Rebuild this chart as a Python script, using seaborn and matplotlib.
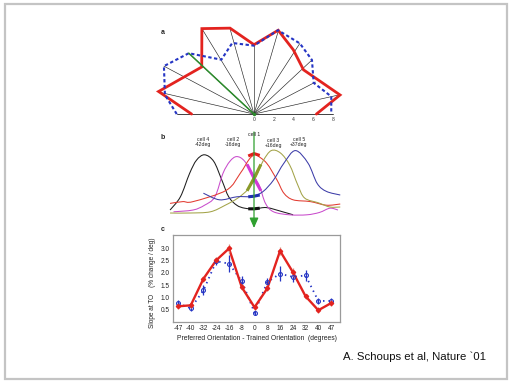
import numpy as np
import pandas as pd
import matplotlib
matplotlib.use("Agg")
import matplotlib.pyplot as plt
import seaborn as sns
from matplotlib.patches import Rectangle, PathPatch
from matplotlib.path import Path
from matplotlib.transforms import Bbox, TransformedBbox

# ---------------- Panel a data (polar plot: angle deg, radius) ----------------
spoke_angles = [12.7, 27.5, 43, 57, 73.7, 90, 105.7, 121.4, 137, 152, 167]
spoke_lengths = [8.9, 7.0, 8.0, 8.5, 8.8, 7.0, 9.0, 10.1, 9.0, 10.3, 9.9]
red_angles = [180, 166.7, 138, 121.4, 105.6, 90, 73.9, 58.5, 41.8, 12.5, 0]
red_r = [6.3, 9.9, 7.1, 10.1, 9.0, 7.0, 8.8, 7.6, 6.7, 8.9, 6.3]
blue_angles = [180, 167.8, 152, 137, 121, 107, 90, 74, 57, 43, 27.6, 12.8, 0]
blue_r = [7.8, 9.2, 10.3, 9.0, 6.4, 7.5, 6.9, 8.8, 8.5, 8.0, 6.8, 8.0, 7.8]
green_angle = 137
green_r = 9.0
a_ticks = [0, 2, 4, 6, 8]
a_axis_start = -7.8

# ---------------- Panel b data (orientation deg, response) ----------------
cell4_x = [-73, -64, -56, -50, -43, -35, -28, -22, -15, -8, 1, 11, 25, 34]
cell4_y = [0.10, 0.32, 0.71, 0.93, 1.02, 0.91, 0.60, 0.32, 0.18, 0.13, 0.12, 0.14, 0.07, 0.02]
cell2_x = [-70, -53, -43, -34, -27, -21, -15, -8, 1, 5, 10, 17, 31, 46, 57, 66, 73]
cell2_y = [0.07, 0.10, 0.18, 0.32, 0.71, 0.91, 0.99, 0.91, 0.63, 0.49, 0.21, 0.07, 0.02, 0.02, 0.06, 0.13, 0.10]
cell1_x = [-73, -62, -53, -24, -12, -4, 1, 2, 11, 20, 26, 34, 49, 63, 75]
cell1_y = [0.21, 0.24, 0.24, 0.43, 0.71, 0.95, 1.03, 1.02, 0.88, 0.60, 0.38, 0.27, 0.24, 0.18, 0.20]
cell3_x = [-73, -56, -38, -25, -14, -5, 2, 8, 15, 23, 31, 38, 44, 56, 66, 75]
cell3_y = [0.05, 0.05, 0.07, 0.18, 0.30, 0.45, 0.66, 0.92, 1.09, 1.05, 0.85, 0.52, 0.30, 0.22, 0.15, 0.15]
cell5_x = [-44, -30, -15, -4, -1, 8, 17, 26, 36, 47, 55, 63, 75]
cell5_y = [0.38, 0.27, 0.32, 0.32, 0.32, 0.41, 0.60, 0.88, 1.09, 0.88, 0.54, 0.41, 0.35]
cell_labels = ["cell 4\n-42deg", "cell 2\n-16deg", "cell 1", "cell 3\n+16deg", "cell 5\n+37deg"]
cell_label_x = [-44, -18, 0, 17, 39]
cell_label_y = [1.23, 1.23, 1.35, 1.21, 1.24]
# thickened pieces where the curves meet the trained orientation (x = 0)
hl_red_x, hl_red_y = [-5, 0, 5], [1.00, 1.04, 1.01]
hl_mag_x, hl_mag_y = [-6, 0, 6], [0.86, 0.63, 0.42]
hl_oli_x, hl_oli_y = [-6, 0, 6], [0.42, 0.63, 0.86]
hl_blu_x, hl_blu_y = [-5, 0, 5], [0.32, 0.33, 0.35]
hl_blk_x, hl_blk_y = [-5, 0, 5], [0.12, 0.12, 0.13]

# ---------------- Panel c data ----------------
orientations = ["-47", "-40", "-32", "-24", "-16", "-8", "0", "8", "16", "24", "32", "40", "47"]
red_slope = [0.64, 0.68, 1.77, 2.52, 3.00, 1.42, 0.60, 1.37, 2.90, 2.04, 1.05, 0.48, 0.77]
red_err = [0.10, 0.10, 0.12, 0.12, 0.20, 0.12, 0.10, 0.12, 0.15, 0.15, 0.10, 0.12, 0.12]
blue_slope = [0.76, 0.56, 1.29, 2.48, 2.38, 1.67, 0.38, 1.63, 1.97, 1.84, 1.90, 0.86, 0.86]
blue_err = [0.12, 0.10, 0.20, 0.15, 0.35, 0.20, 0.10, 0.15, 0.30, 0.20, 0.22, 0.12, 0.12]

RED = "#e3231f"
BLUE = "#2535c4"

sns.set_theme(style="white")
plt.rcParams["font.family"] = ["Liberation Sans", "DejaVu Sans"]

fig = plt.figure(figsize=(5.12, 3.84), dpi=100)
fig.patch.set_facecolor("white")

W, H = 512.0, 384.0
def px_axes(l, t, r, b):
    return fig.add_axes([l / W, 1 - b / H, (r - l) / W, (b - t) / H])


def smooth_path(xs, ys):
    """Smooth (Catmull-Rom style) Bezier path through the read points."""
    p = np.column_stack([xs, ys]).astype(float)
    ext = np.vstack([p[0], p, p[-1]])
    verts = [tuple(p[0])]
    codes = [Path.MOVETO]
    for i in range(1, len(ext) - 2):
        p0, p1, p2, p3 = ext[i - 1], ext[i], ext[i + 1], ext[i + 2]
        c1 = p1 + (p2 - p0) / 6.0
        c2 = p2 - (p3 - p1) / 6.0
        verts += [tuple(c1), tuple(c2), tuple(p2)]
        codes += [Path.CURVE4] * 3
    return Path(verts, codes)


# slide frame
fig.patches.append(Rectangle((5 / W, 1 - 379 / H), 502 / W, 375 / H, transform=fig.transFigure,
                             fill=False, edgecolor="#c4c4c4", linewidth=1.6))

# ================= Panel a =================
axa = px_axes(150, 8, 358, 122)
axa.set_xlim(-10.5, 10.5)
axa.set_ylim(-0.8, 10.7)
axa.axis("off")

sa = np.deg2rad(spoke_angles)
for th, L in zip(sa, spoke_lengths):
    axa.plot([0, L * np.cos(th)], [0, L * np.sin(th)], color="#222222", lw=0.45)
axa.plot([a_axis_start, a_ticks[-1]], [0, 0], color="#222222", lw=0.6)
ra = np.deg2rad(red_angles)
axa.plot(np.array(red_r) * np.cos(ra), np.array(red_r) * np.sin(ra), color=RED, lw=2.0,
         solid_joinstyle="miter")
ba = np.deg2rad(blue_angles)
axa.plot(np.array(blue_r) * np.cos(ba), np.array(blue_r) * np.sin(ba), color=BLUE, lw=1.5,
         ls=(0, (1.6, 1.2)))
ga = np.deg2rad(green_angle)
axa.plot([0, green_r * np.cos(ga)], [0, green_r * np.sin(ga)], color="#2c8c2c", lw=1.1)
axa.plot([0], [0], marker="o", ms=1.5, color="#2c8c2c")
for t in a_ticks:
    axa.text(t, -0.55, str(t), fontsize=3.6, ha="center", va="center", color="#333333")
axa.text(-9.2, 8.2, "a", fontsize=5, fontweight="bold", ha="center", va="center")

# ================= Panel b =================
axb = px_axes(162, 130, 346, 230)
axb.set_xlim(-80, 80)
axb.set_ylim(-0.233, 1.433)
axb.axis("off")
curves = [(cell4_x, cell4_y, "#1e1e1e"), (cell2_x, cell2_y, "#c94ccc"),
          (cell1_x, cell1_y, "#e23a30"), (cell3_x, cell3_y, "#a3a348"),
          (cell5_x, cell5_y, "#3c3ca8")]
for cx, cy, col in curves:
    axb.add_patch(PathPatch(smooth_path(cx, cy), facecolor="none", edgecolor=col, lw=0.75))
axb.annotate("", xy=(0, -0.20), xytext=(0, 1.40),
             arrowprops=dict(arrowstyle="-|>,head_length=0.5,head_width=0.22", color="#2fa02f",
                             lw=0.9, shrinkA=0, shrinkB=0))
for hx, hy, col in [(hl_red_x, hl_red_y, "#e2201c"), (hl_mag_x, hl_mag_y, "#d23ad6"),
                    (hl_oli_x, hl_oli_y, "#8a9a2a"), (hl_blu_x, hl_blu_y, "#1f2fb0"),
                    (hl_blk_x, hl_blk_y, "#111111")]:
    axb.plot(hx, hy, color=col, lw=2.2, solid_capstyle="butt")
for lab, lx, ly in zip(cell_labels, cell_label_x, cell_label_y):
    axb.text(lx, ly, lab, fontsize=3.7, ha="center", va="center", linespacing=1.0, color="#222222")
axb.text(-79, 1.30, "b", fontsize=5, fontweight="bold", ha="center", va="center")

# ================= Panel c =================
axc = px_axes(172.5, 235, 340, 322)
xpos = np.arange(len(orientations))
dfc = pd.DataFrame({"x": np.concatenate([xpos, xpos]),
                    "slope": red_slope + blue_slope,
                    "group": ["red"] * len(xpos) + ["blue"] * len(xpos)})
sns.lineplot(data=dfc[dfc.group == "blue"], x="x", y="slope", ax=axc, color=BLUE, lw=1.3,
             linestyle=(0, (0.8, 2.2)), estimator=None)
axc.errorbar(xpos, blue_slope, yerr=blue_err, fmt="o", ms=2.8, mfc="none", mec=BLUE, mew=0.8,
             ecolor=BLUE, elinewidth=0.9, capsize=0)
sns.lineplot(data=dfc[dfc.group == "red"], x="x", y="slope", ax=axc, color=RED, lw=1.7,
             estimator=None)
axc.errorbar(xpos, red_slope, yerr=red_err, fmt="D", ms=2.2, mfc=RED, mec=RED,
             ecolor="#d98a7a", elinewidth=0.9, capsize=0)
axc.set_xlim(-0.43, 12.7)
axc.set_ylim(0, 3.55)
axc.set_xticks(xpos)
axc.set_xticklabels(orientations)
axc.set_yticks([0.5, 1.0, 1.5, 2.0, 2.5, 3.0])
axc.set_yticklabels(["0.5", "1.0", "1.5", "2.0", "2.5", "3.0"])
axc.tick_params(axis="both", length=0, labelsize=4.7, colors="#222222", pad=2.2)
for s in axc.spines.values():
    s.set_color("#9a9a9a")
    s.set_linewidth(0.9)
axc.set_xlabel("")
axc.set_ylabel("Slope at TO    (% change / deg)", fontsize=4.7, color="#222222")
axc.yaxis.set_label_coords(-0.10, 0.45)
xl = axc.text(0.027, -0.19, "Preferred Orientation - Trained Orientation  (degrees)",
              transform=axc.transAxes, fontsize=4.9, ha="left", va="center", color="#222222")
xl.set_clip_on(True)
xl.set_clip_box(TransformedBbox(Bbox([[0, 0], [344 / W, 1]]), fig.transFigure))
axc.text(-0.06, 1.06, "c", transform=axc.transAxes, fontsize=5, fontweight="bold",
         ha="center", va="center")

# citation
fig.text(343 / W, 1 - 357 / H, "A. Schoups et al, Nature `01", fontsize=8.2, ha="left",
         va="center", color="#111111")

fig.savefig("out.png", dpi=100, facecolor="white")
